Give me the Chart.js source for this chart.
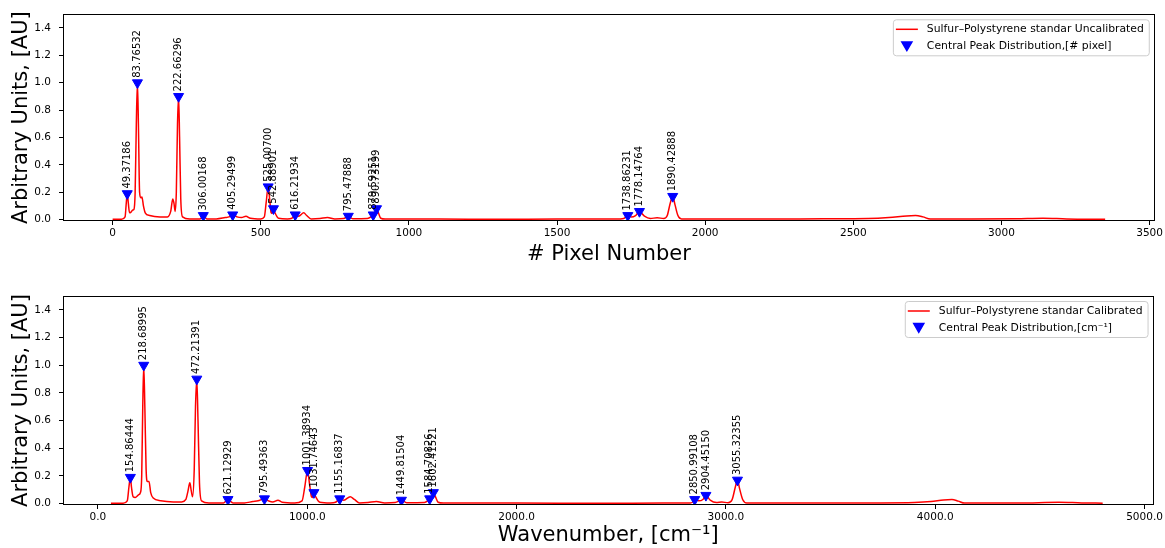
<!DOCTYPE html>
<html>
<head>
<meta charset="utf-8">
<title>Sulfur-Polystyrene standard</title>
<script src="https://cdn.jsdelivr.net/npm/chart.js@4.4.0/dist/chart.umd.min.js"></script>
<style>
  body { margin: 0; background: #fff; }
  canvas { position: absolute; left: 0; }
</style>
</head>
<body>
<canvas id="pixelChart" width="1165" height="275" style="top:0px"></canvas>
<canvas id="waveChart" width="1165" height="273" style="top:275px"></canvas>
<script>
// spectrum vs detector pixel
const pixelX = [0, 30, 42, 46, 49.37, 53, 57, 62, 68, 72, 76, 80, 83.77, 87, 91, 95, 99, 104, 110, 125, 160, 185, 196, 203, 207, 211, 215, 219, 222.66, 226, 230, 236, 260,
  295, 302, 306, 311, 318, 350, 380, 393, 405.3, 420, 435, 450, 465, 500, 512, 518, 525, 530, 535, 538, 542.89, 548, 560, 590, 605, 616.22, 628, 645, 655, 670,
  700, 725, 750, 780, 795.48, 810, 860, 872, 879.59, 884, 890.73, 897, 905, 920, 1100, 1300, 1500, 1700, 1725, 1738.86, 1750, 1765, 1778.15, 1795, 1815, 1838,
  1860, 1872, 1882, 1890.43, 1898, 1908, 1920, 2000, 2200, 2400, 2550, 2620, 2680, 2710, 2735, 2760, 2900, 3050, 3140, 3220, 3350];
const pixelY = [0.003, 0.003, 0.02, 0.12, 0.19, 0.12, 0.05, 0.055, 0.07, 0.075, 0.2, 0.7, 1.0, 0.7, 0.2, 0.16, 0.165, 0.1, 0.05, 0.03, 0.02, 0.02, 0.06, 0.15, 0.12, 0.06, 0.2, 0.7, 0.9, 0.6, 0.15, 0.02, 0.005,
  0.005, 0.02, 0.03, 0.02, 0.005, 0.005, 0.015, 0.02, 0.035, 0.02, 0.015, 0.025, 0.01, 0.005, 0.02, 0.12, 0.24, 0.15, 0.05, 0.045, 0.08, 0.05, 0.01, 0.005, 0.01, 0.035, 0.025, 0.05, 0.03, 0.005,
  0.008, 0.015, 0.005, 0.008, 0.025, 0.006, 0.008, 0.02, 0.035, 0.04, 0.08, 0.05, 0.01, 0.004, 0.004, 0.003, 0.004, 0.004, 0.008, 0.03, 0.02, 0.03, 0.06, 0.025, 0.008, 0.014,
  0.008, 0.03, 0.12, 0.17, 0.11, 0.03, 0.005, 0.004, 0.004, 0.006, 0.008, 0.015, 0.027, 0.03, 0.02, 0.004, 0.004, 0.006, 0.01, 0.005, 0.003];

// same spectrum after calibration
const waveX = [62, 120, 140, 148, 154.86, 160, 168, 178, 195, 203, 209, 214, 218.69, 224, 230, 236, 244, 252, 264, 300, 360, 400, 420, 430, 439, 446, 452, 460, 466, 472.21, 478, 485, 495, 530,
  600, 612, 621.13, 630, 645, 700, 740, 765, 795.49, 815, 835, 860, 880, 940, 975, 988, 1001.39, 1010, 1020, 1024, 1031.75, 1040, 1060, 1110, 1135, 1155.17, 1175, 1205, 1225, 1250,
  1290, 1330, 1370, 1420, 1449.82, 1475, 1560, 1575, 1584.71, 1592, 1602.42, 1612, 1625, 1650, 2000, 2400, 2700, 2830, 2840, 2850.99, 2870, 2890, 2904.45, 2925, 2955, 2980, 3010,
  3030, 3045, 3055.32, 3065, 3080, 3100, 3300, 3700, 3900, 3980, 4040, 4080, 4110, 4140, 4400, 4590, 4700, 4800];
const waveY = [0.003, 0.003, 0.02, 0.12, 0.19, 0.12, 0.05, 0.045, 0.065, 0.08, 0.2, 0.7, 1.0, 0.7, 0.25, 0.16, 0.16, 0.08, 0.04, 0.02, 0.012, 0.012, 0.03, 0.09, 0.15, 0.09, 0.05, 0.25, 0.7, 0.9, 0.6, 0.15, 0.02, 0.005,
  0.005, 0.02, 0.03, 0.02, 0.005, 0.005, 0.015, 0.02, 0.035, 0.02, 0.012, 0.025, 0.01, 0.005, 0.02, 0.12, 0.24, 0.15, 0.05, 0.045, 0.08, 0.05, 0.01, 0.005, 0.01, 0.03, 0.025, 0.05, 0.03, 0.005,
  0.008, 0.015, 0.005, 0.008, 0.025, 0.006, 0.008, 0.02, 0.035, 0.04, 0.08, 0.05, 0.01, 0.004, 0.004, 0.003, 0.004, 0.005, 0.01, 0.03, 0.02, 0.03, 0.06, 0.025, 0.008, 0.012, 0.006,
  0.03, 0.12, 0.17, 0.11, 0.03, 0.005, 0.004, 0.005, 0.008, 0.015, 0.027, 0.03, 0.018, 0.004, 0.004, 0.01, 0.005, 0.003];

// detected peaks
const peakPixels = [49.37186, 83.76532, 222.66296, 306.00168, 405.29499, 525.00700, 542.88901, 616.21934, 795.47888, 879.59251, 890.73199, 1738.86231, 1778.14764, 1890.42888];
const peakWaves = [154.86444, 218.68995, 472.21391, 621.12929, 795.49363, 1001.38934, 1031.74643, 1155.16837, 1449.81504, 1584.70826, 1602.41521, 2850.99108, 2904.45150, 3055.32355];
const peakHeights = [0.19, 1.0, 0.9, 0.03, 0.035, 0.24, 0.08, 0.035, 0.025, 0.035, 0.08, 0.03, 0.06, 0.17];

const pixelTicks = [0, 500, 1000, 1500, 2000, 2500, 3000, 3500];
const waveTicks = [0, 1000, 2000, 3000, 4000, 5000];
const yTicks = [0, 0.2, 0.4, 0.6, 0.8, 1.0, 1.2, 1.4];

Chart.defaults.font.family = "'DejaVu Sans', sans-serif";
Chart.defaults.color = '#000';

// axes frame, rotated peak labels and a boxed legend
const spectrumDecor = {
  id: 'spectrumDecor',
  afterDatasetsDraw(chart) {
    const ctx = chart.ctx;
    const meta = chart.getDatasetMeta(1);
    const labels = chart.data.datasets[1].peakLabels;
    ctx.save();
    ctx.font = "10px 'DejaVu Sans'";
    ctx.fillStyle = '#000';
    ctx.textAlign = 'left';
    ctx.textBaseline = 'middle';
    meta.data.forEach((pt, i) => {
      ctx.save();
      ctx.translate(pt.x, pt.y - 5);
      ctx.rotate(-Math.PI / 2);
      ctx.fillText(labels[i], 0, 0);
      ctx.restore();
    });
    ctx.restore();
  },
  afterDraw(chart) {
    const ctx = chart.ctx;
    const a = chart.chartArea;
    ctx.save();
    ctx.strokeStyle = '#000';
    ctx.lineWidth = 1;
    ctx.strokeRect(Math.round(a.left) + 0.5, Math.round(a.top) + 0.5, Math.round(a.right - a.left) - 1, Math.round(a.bottom - a.top) - 1);

    // legend
    const sets = chart.data.datasets;
    ctx.font = "10.8px 'DejaVu Sans'";
    let textW = 0;
    sets.forEach(ds => { textW = Math.max(textW, ctx.measureText(ds.label).width); });
    const boxW = 34 + textW + 5;
    const boxH = 36;
    const bx = a.right - 6 - boxW;
    const by = a.top + 5;
    ctx.beginPath();
    ctx.roundRect(bx + 0.5, by + 0.5, boxW, boxH, 3);
    ctx.fillStyle = 'rgba(255,255,255,0.8)';
    ctx.fill();
    ctx.strokeStyle = '#cccccc';
    ctx.stroke();
    sets.forEach((ds, i) => {
      const ry = by + 10 + i * 17;
      if (ds.showLine !== false) {
        ctx.beginPath();
        ctx.moveTo(bx + 3, ry);
        ctx.lineTo(bx + 25, ry);
        ctx.strokeStyle = ds.borderColor;
        ctx.lineWidth = ds.borderWidth;
        ctx.stroke();
      } else {
        ctx.fillStyle = ds.backgroundColor;
        ctx.strokeStyle = ds.borderColor;
        Chart.helpers.drawPoint(ctx, { pointStyle: 'triangle', rotation: 180, radius: 5.8, borderWidth: 1 }, bx + 14, ry - 1.5);
      }
      ctx.fillStyle = '#000';
      ctx.textAlign = 'left';
      ctx.textBaseline = 'middle';
      ctx.fillText(ds.label, bx + 34, ry);
    });
    ctx.restore();
  }
};

function makeSpectrum(canvasId, xs, ys, peaks, opts) {
  const curve = xs.map((x, i) => ({ x: x, y: ys[i] }));
  const marks = peaks.map((x, i) => ({ x: x, y: peakHeights[i] }));
  return new Chart(document.getElementById(canvasId), {
    type: 'line',
    data: {
      datasets: [
        {
          label: opts.lineLabel,
          data: curve,
          borderColor: '#ff0000',
          borderWidth: 1.5,
          pointRadius: 0,
          cubicInterpolationMode: 'monotone',
          order: 2
        },
        {
          label: opts.peakLabel,
          data: marks,
          peakLabels: peaks.map(v => v.toFixed(5)),
          showLine: false,
          pointStyle: 'triangle',
          rotation: 180,
          pointRadius: 5.8,
          pointBorderWidth: 1,
          backgroundColor: '#0000ff',
          borderColor: '#0000ff',
          order: 1
        }
      ]
    },
    options: {
      responsive: false,
      animation: false,
      events: [],
      layout: { padding: { top: opts.top, right: 10, left: 0, bottom: 0 } },
      plugins: { legend: { display: false }, tooltip: { enabled: false } },
      scales: {
        x: {
          type: 'linear',
          min: opts.xMin,
          max: opts.xMax,
          afterBuildTicks: s => { s.ticks = opts.ticks.map(v => ({ value: v })); },
          afterFit: s => { s.height = opts.xHeight; },
          grid: { drawOnChartArea: false, drawTicks: true, tickLength: 4, tickColor: '#000' },
          border: { display: false },
          ticks: { padding: 2, maxRotation: 0, font: { size: 10.5 }, callback: opts.tickFormat },
          title: { display: true, text: opts.xTitle, font: { size: 21 }, padding: { top: 0, bottom: opts.titlePad } }
        },
        y: {
          min: -0.01,
          max: 1.5,
          afterBuildTicks: s => { s.ticks = yTicks.map(v => ({ value: v })); },
          afterFit: s => { s.width = 63; },
          grid: { drawOnChartArea: false, drawTicks: true, tickLength: 4, tickColor: '#000' },
          border: { display: false },
          ticks: { padding: 8, font: { size: 10.5 }, callback: v => v.toFixed(1) },
          title: { display: true, text: 'Arbitrary Units, [AU]', font: { size: 21 }, padding: { top: 9, bottom: 0 } }
        }
      }
    },
    plugins: [spectrumDecor]
  });
}

makeSpectrum('pixelChart', pixelX, pixelY, peakPixels, {
  lineLabel: 'Sulfur\u2013Polystyrene standar Uncalibrated',
  peakLabel: 'Central Peak Distribution,[# pixel]',
  xTitle: '# Pixel Number',
  xMin: -167.5, xMax: 3517.5,
  ticks: pixelTicks,
  tickFormat: v => String(v),
  top: 14, xHeight: 54, titlePad: 8
});

makeSpectrum('waveChart', waveX, waveY, peakWaves, {
  lineLabel: 'Sulfur\u2013Polystyrene standar Calibrated',
  peakLabel: 'Central Peak Distribution,[cm\u207B\u00B9]',
  xTitle: 'Wavenumber, [cm\u207B\u00B9]',
  xMin: -167, xMax: 5043,
  ticks: waveTicks,
  tickFormat: v => v.toFixed(1),
  top: 21, xHeight: 43, titlePad: 0
});
</script>
</body>
</html>
